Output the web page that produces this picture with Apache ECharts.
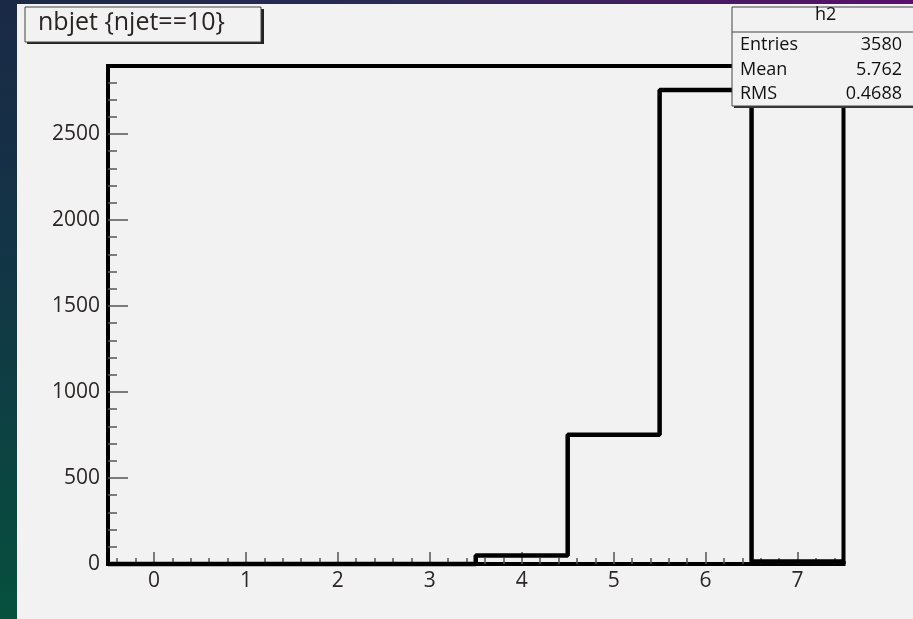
<!DOCTYPE html>
<html>
<head>
<meta charset="utf-8">
<script src="https://cdn.jsdelivr.net/npm/echarts@6/dist/echarts.min.js"></script>
<style>
	html, body { margin: 0; padding: 0; }
	body {
		width: 913px; height: 619px; overflow: hidden; position: relative;
		background: linear-gradient(180deg, #1a2946 0%, #123646 45%, #06503d 100%);
	}
	#topstrip {
		position: absolute; left: 0; top: 0; width: 913px; height: 5px;
		background: linear-gradient(90deg, #1a2946 0%, #2c2a56 45%, #5a0f6c 100%);
	}
	#panel {
		position: absolute; left: 17px; top: 4px; width: 896px; height: 615px;
		background: #f2f2f2;
	}
	#main { position: absolute; left: 0; top: 0; width: 913px; height: 619px; }
</style>
</head>
<body>
<div id="topstrip"></div>
<div id="panel"></div>
<div id="main"></div>
<script>
	// histogram nbjet {njet==10}
	var binCenters = [0, 1, 2, 3, 4, 5, 6, 7];
	var binCounts = [0, 0, 0, 0, 50, 752, 2755, 15];
	var xTicks = [0, 1, 2, 3, 4, 5, 6, 7];
	var yTicks = [0, 500, 1000, 1500, 2000, 2500];
	var statNames = ['Entries', 'Mean', 'RMS'];
	var statValues = ['3580', '5.762', '0.4688'];
	var histName = 'h2';
	var titleText = 'nbjet {njet==10}';

	var xMin = -0.5, xMax = 7.5, yMax = 2895;
	var font = '"Open Sans", "DejaVu Sans", sans-serif';

	// step points from bin edges
	var stepData = [];
	for (var i = 0; i < binCenters.length; i++) {
		stepData.push([binCenters[i] - 0.5, binCounts[i]]);
	}
	stepData.push([binCenters[binCenters.length - 1] + 0.5, binCounts[binCounts.length - 1]]);
	stepData.push([binCenters[binCenters.length - 1] + 0.5, 0]);

	// minor ticks
	var xMinor = [];
	for (var v = -0.4; v < xMax; v += 0.2) {
		var r = Math.round(v * 10) / 10;
		if (Math.abs(r - Math.round(r)) > 0.01) xMinor.push(r);
	}
	var yMinor = [];
	for (var w = 100; w < yMax; w += 100) {
		if (w % 500 !== 0) yMinor.push(w);
	}

	var chart = echarts.init(document.getElementById('main'));

	var statGraphics = [];
	statNames.forEach(function (n, k) {
		statGraphics.push({
			type: 'text', left: 740, top: 36 + k * 24.5, z: 101,
			style: { text: n, font: '18px ' + font, fill: '#111' }
		});
		statGraphics.push({
			type: 'text', right: 11, top: 36 + k * 24.5, z: 101,
			style: { text: statValues[k], font: '18px ' + font, fill: '#111', align: 'right' }
		});
	});

	var tickStyle = { color: '#555', width: 1.5 };

	var option = {
		backgroundColor: 'transparent',
		animation: false,
		grid: {
			left: 108, right: 69.5, top: 66, bottom: 55,
			show: true, borderColor: '#000', borderWidth: 4,
			backgroundColor: 'transparent'
		},
		xAxis: [{
			type: 'value', min: xMin, max: xMax, position: 'bottom',
			axisLine: { show: false, onZero: false },
			splitLine: { show: false },
			axisTick: { inside: true, length: 12, customValues: xTicks, lineStyle: tickStyle },
			axisLabel: { customValues: xTicks, margin: 7, color: '#2d2626',
				fontSize: 21, fontFamily: font }
		}, {
			type: 'value', min: xMin, max: xMax, position: 'bottom',
			axisLine: { show: false, onZero: false },
			splitLine: { show: false },
			axisTick: { inside: true, length: 6, customValues: xMinor, lineStyle: tickStyle },
			axisLabel: { show: false }
		}],
		yAxis: [{
			type: 'value', min: 0, max: yMax, position: 'left',
			axisLine: { show: false, onZero: false },
			splitLine: { show: false },
			axisTick: { inside: true, length: 20, customValues: yTicks, lineStyle: tickStyle },
			axisLabel: { customValues: yTicks, margin: 8, color: '#2d2626',
				fontSize: 21, fontFamily: font,
				formatter: function (val) { return String(val); } }
		}, {
			type: 'value', min: 0, max: yMax, position: 'left',
			axisLine: { show: false, onZero: false },
			splitLine: { show: false },
			axisTick: { inside: true, length: 9, customValues: yMinor, lineStyle: tickStyle },
			axisLabel: { show: false }
		}],
		series: [{
			type: 'line',
			step: 'end',
			data: stepData,
			showSymbol: false,
			clip: false,
			lineStyle: { color: '#000', width: 4.5 },
			z: 5
		}],
		graphic: [
			// title box with shadow
			{ type: 'rect', z: 100, shape: { x: 27, y: 9, width: 237, height: 35 },
				style: { fill: '#222' } },
			{ type: 'rect', z: 100, shape: { x: 25, y: 7, width: 236, height: 35 },
				style: { fill: '#f2f2f2', stroke: '#444', lineWidth: 1 } },
			{ type: 'text', left: 38, top: 10, z: 101,
				style: { text: titleText, font: '25px ' + font, fill: '#2a2424' } },
			// stats box
			{ type: 'rect', z: 100, shape: { x: 734, y: 9, width: 190, height: 99 },
				style: { fill: '#333' } },
			{ type: 'rect', z: 100, shape: { x: 732, y: 7, width: 190, height: 99 },
				style: { fill: '#f2f2f2', stroke: '#444', lineWidth: 1 } },
			{ type: 'line', z: 101, shape: { x1: 732, y1: 32, x2: 913, y2: 32 },
				style: { stroke: '#444', lineWidth: 1 } },
			{ type: 'text', left: 815, top: 6, z: 101,
				style: { text: histName, font: '18px ' + font, fill: '#111' } }
		].concat(statGraphics)
	};

	chart.setOption(option);
</script>
</body>
</html>
